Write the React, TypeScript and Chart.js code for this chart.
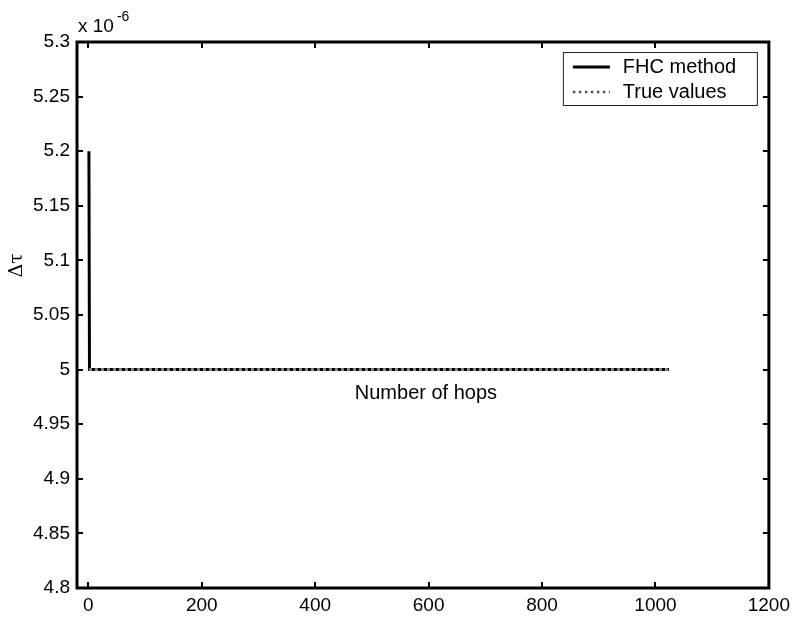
import { useEffect, useRef } from "react";
import { Chart, registerables } from "chart.js";

Chart.register(...registerables);

// ---- data ----
const HOPS_FHC = [1, 2, 1024];
const DELAY_FHC = [5.2e-6, 5.0e-6, 5.0e-6];
const HOPS_TRUE = [1, 1024];
const DELAY_TRUE = [5.0e-6, 5.0e-6];
const X_TICKS = [0, 200, 400, 600, 800, 1000, 1200];
const Y_TICKS = [4.8e-6, 4.85e-6, 4.9e-6, 4.95e-6, 5.0e-6, 5.05e-6, 5.1e-6, 5.15e-6, 5.2e-6, 5.25e-6, 5.3e-6];
const SERIES_NAMES = ["FHC method", "True values"];
const X_LABEL = "Number of hops";
const Y_LABEL = "\u0394\u03c4";
const EXPONENT_BASE = "x 10";
const EXPONENT_POWER = "-6";
const Y_UNIT = 1e-6;

const FONT = '"Liberation Sans", Arial, Helvetica, sans-serif';
const FS = 19;
const FS_TXT = 20;

const decorPlugin = {
  id: "decor",
  afterDraw(chart: any) {
    const ctx = chart.ctx;
    const ca = chart.chartArea;
    const xs = chart.scales.x;
    const ys = chart.scales.y;
    ctx.save();
    // axes box
    ctx.strokeStyle = "#000";
    ctx.lineWidth = 3;
    ctx.strokeRect(ca.left, ca.top, ca.right - ca.left, ca.bottom - ca.top);
    // inward ticks
    const TL = 6;
    ctx.lineWidth = 2;
    ctx.beginPath();
    X_TICKS.forEach((v) => {
      const px = Math.round(xs.getPixelForValue(v));
      ctx.moveTo(px, ca.bottom);
      ctx.lineTo(px, ca.bottom - TL);
      ctx.moveTo(px, ca.top);
      ctx.lineTo(px, ca.top + TL);
    });
    Y_TICKS.forEach((v) => {
      const py = Math.round(ys.getPixelForValue(v));
      ctx.moveTo(ca.left, py);
      ctx.lineTo(ca.left + TL, py);
      ctx.moveTo(ca.right, py);
      ctx.lineTo(ca.right - TL, py);
    });
    ctx.stroke();

    // exponent label
    ctx.fillStyle = "#000";
    ctx.textBaseline = "alphabetic";
    ctx.textAlign = "left";
    ctx.font = `${FS}px ${FONT}`;
    const bx = ca.left + 1;
    const by = ca.top - 10;
    ctx.fillText(EXPONENT_BASE, bx, by);
    const w = ctx.measureText(EXPONENT_BASE).width;
    ctx.font = `${Math.round(FS * 0.72)}px ${FONT}`;
    ctx.fillText(EXPONENT_POWER, bx + w + 3, by - 11);

    // x label (placed inside the axes, as in the reference)
    ctx.font = `${FS_TXT}px ${FONT}`;
    ctx.textAlign = "center";
    ctx.textBaseline = "middle";
    ctx.fillText(X_LABEL, (ca.left + ca.right) / 2 + 3, ys.getPixelForValue(5.0e-6) + 24);

    // y label
    ctx.save();
    ctx.translate(17, ys.getPixelForValue(5.1e-6) + 5);
    ctx.rotate(-Math.PI / 2);
    ctx.font = `${FS}px "DejaVu Serif", serif`;
    ctx.textAlign = "center";
    ctx.textBaseline = "middle";
    ctx.fillText(Y_LABEL, 0, 0);
    ctx.restore();

    // legend
    const lw = 194;
    const lh = 53;
    const lx = ca.right - 12 - lw;
    const ly = ca.top + 10;
    ctx.fillStyle = "#fff";
    ctx.fillRect(lx, ly, lw, lh);
    ctx.strokeStyle = "#222";
    ctx.lineWidth = 1;
    ctx.strokeRect(lx + 0.5, ly + 0.5, lw, lh);
    const rows = [ly + 15, ly + 40];
    // FHC sample
    ctx.strokeStyle = "#000";
    ctx.lineWidth = 3;
    ctx.setLineDash([]);
    ctx.beginPath();
    ctx.moveTo(lx + 10, rows[0]);
    ctx.lineTo(lx + 47, rows[0]);
    ctx.stroke();
    // True sample
    ctx.strokeStyle = "#555";
    ctx.lineWidth = 2.5;
    ctx.setLineDash([2.5, 3.5]);
    ctx.beginPath();
    ctx.moveTo(lx + 10, rows[1]);
    ctx.lineTo(lx + 47, rows[1]);
    ctx.stroke();
    ctx.setLineDash([]);
    ctx.fillStyle = "#000";
    ctx.font = `${FS_TXT}px ${FONT}`;
    ctx.textAlign = "left";
    ctx.textBaseline = "middle";
    ctx.fillText(SERIES_NAMES[0], lx + 60, rows[0]);
    ctx.fillText(SERIES_NAMES[1], lx + 60, rows[1]);
    ctx.restore();
  },
};

export default function App() {
  const ref = useRef<HTMLCanvasElement | null>(null);
  useEffect(() => {
    if (!ref.current) return;
    const chart = new Chart(ref.current, {
      type: "line",
      data: {
        datasets: [
          {
            label: SERIES_NAMES[0],
            data: HOPS_FHC.map((x, i) => ({ x, y: DELAY_FHC[i] })),
            borderColor: "#000",
            borderWidth: 3,
            pointRadius: 0,
            tension: 0,
            order: 1,
          },
          {
            label: SERIES_NAMES[1],
            data: HOPS_TRUE.map((x, i) => ({ x, y: DELAY_TRUE[i] })),
            borderColor: "#8a8a8a",
            borderWidth: 3,
            borderDash: [3, 3],
            pointRadius: 0,
            tension: 0,
            order: 0,
          },
        ],
      },
      options: {
        animation: false,
        responsive: true,
        maintainAspectRatio: false,
        layout: { padding: { top: 42, right: 27, left: 0, bottom: 0 } },
        plugins: { legend: { display: false }, tooltip: { enabled: false } },
        scales: {
          x: {
            type: "linear",
            min: -20,
            max: 1200,
            grid: { display: false, drawTicks: false },
            border: { display: false },
            afterBuildTicks: (s: any) => {
              s.ticks = X_TICKS.map((v) => ({ value: v }));
            },
            afterFit: (s: any) => {
              s.height = 34;
            },
            ticks: {
              color: "#000",
              font: { family: FONT, size: FS },
              padding: 6,
              maxRotation: 0,
              autoSkip: false,
              callback: (v: any) => String(v),
            },
          },
          y: {
            type: "linear",
            min: 4.8e-6,
            max: 5.3e-6,
            grid: { display: false, drawTicks: false },
            border: { display: false },
            afterBuildTicks: (s: any) => {
              s.ticks = Y_TICKS.map((v) => ({ value: v }));
            },
            afterFit: (s: any) => {
              s.width = 77;
            },
            ticks: {
              color: "#000",
              font: { family: FONT, size: FS },
              padding: 7,
              autoSkip: false,
              callback: (v: any) => String(Number((v / Y_UNIT).toFixed(2))),
            },
          },
        },
      },
      plugins: [decorPlugin],
    });
    return () => chart.destroy();
  }, []);
  return (
    <div style={{ position: "fixed", left: 0, top: 0, width: 796, height: 622, background: "#fff" }}>
      <canvas ref={ref} />
    </div>
  );
}
